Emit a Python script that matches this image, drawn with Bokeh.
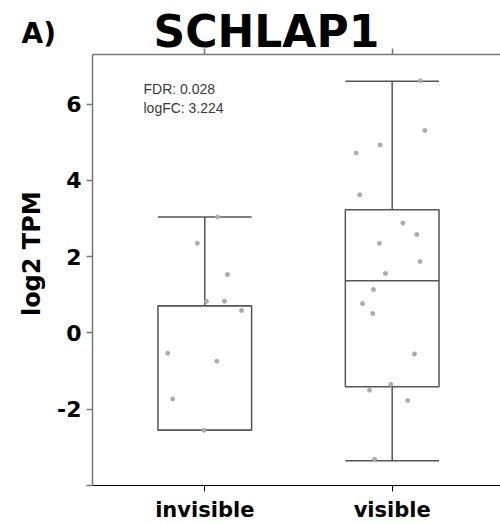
import math
from bokeh.plotting import figure
from bokeh.layouts import column, row
from bokeh.models import ColumnDataSource, Range1d, FixedTicker, LinearAxis, Label
from bokeh.core.properties import value
from bokeh.embed import file_html
from bokeh.resources import INLINE

# ---------------- data ----------------
categories = ["invisible", "visible"]

# box statistics
whisker_low = [-2.55, -3.35]
q1 = [-2.55, -1.41]
median = [0.71, 1.37]
q3 = [0.71, 3.23]
whisker_high = [3.04, 6.60]

# individual samples (log2 TPM) and their horizontal jitter
invisible_vals = [3.04, 2.35, 1.53, 0.83, 0.83, 0.59, -0.53, -0.74, -1.73, -2.55]
invisible_jit = [0.068, -0.040, 0.121, 0.009, 0.105, 0.196, -0.198, 0.064, -0.171, -0.005]
visible_vals = [6.61, 5.31, 4.93, 4.72, 3.62, 2.88, 2.58, 2.35, 1.87, 1.56,
                1.14, 0.77, 0.51, -0.55, -1.35, -1.50, -1.77, -3.31]
visible_jit = [0.151, 0.174, -0.064, -0.192, -0.173, 0.057, 0.131, -0.068, 0.149, -0.036,
               -0.100, -0.158, -0.104, 0.119, -0.007, -0.121, 0.083, -0.094]

y_ticks = [-4, -2, 0, 2, 4, 6]
y_tick_labels = ["", "-2", "0", "2", "4", "6"]
title_text = "SCHLAP1"
panel_tag = "A)"
stats_lines = ["FDR: 0.028", "logFC: 3.224"]
y_label = "log2 TPM"

# ---------------- layout constants ----------------
W, H = 500, 524
MAIN_TOP = 48          # where the main plot's canvas starts
HEAD_H = 60            # header canvas is taller and overlaps the main canvas
LEFT_W = 46
BOX_W = 0.5
AX = "#777777"
BOXC = "#555555"
PTC = "#ababab"
DESC = 0.24  # renderer puts the anchor this many em below the baseline

# ---------------- header (panel tag + title) ----------------
head = figure(width=W, height=HEAD_H, output_backend="svg", toolbar_location=None,
              title=None, x_range=Range1d(0, W), y_range=Range1d(0, HEAD_H),
              x_axis_type=None, y_axis_type=None, min_border=0,
              margin=(0, 0, MAIN_TOP - HEAD_H, 0))
head.outline_line_color = None
head.grid.visible = False
head.text(x=[21], y=[HEAD_H - (40 - DESC * 28)], text=[panel_tag],
          text_font=value("DejaVu Sans"), text_font_style="bold",
          text_font_size=value("28px"), text_color="black",
          text_baseline="alphabetic", text_align="left")
head.text(x=[153], y=[HEAD_H - (41.7 - DESC * 44)], text=[title_text],
          text_font=value("DejaVu Sans"), text_font_style="bold",
          text_font_size=value("44px"), text_color="black",
          text_baseline="alphabetic", text_align="left")

# ---------------- left strip (y axis title) ----------------
MAIN_H = H - MAIN_TOP
left = figure(width=LEFT_W, height=MAIN_H, output_backend="svg", toolbar_location=None,
              title=None, x_range=Range1d(0, LEFT_W), y_range=Range1d(0, MAIN_H),
              x_axis_type=None, y_axis_type=None, min_border=0)
left.outline_line_color = None
left.grid.visible = False
left.background_fill_color = None
left.border_fill_color = None
left.text(x=[37 - DESC * 24], y=[H - 268], text=[y_label], angle=math.pi / 2,
          text_font=value("DejaVu Sans"), text_font_style="bold",
          text_font_size=value("24px"), text_color="black",
          text_baseline="alphabetic", text_align="center")

# ---------------- main plot ----------------
x_pos = [i + 1 for i in range(len(categories))]

p = figure(width=W - LEFT_W, height=MAIN_H, output_backend="svg", toolbar_location=None,
           x_range=Range1d(0.4008, 2.578), y_range=Range1d(-4.0, 7.30),
           min_border_left=92 - LEFT_W, min_border_top=54 - MAIN_TOP,
           min_border_right=0, min_border_bottom=0)
p.outline_line_color = None
p.grid.visible = False
p.background_fill_color = None
p.border_fill_color = None

p.xaxis.ticker = FixedTicker(ticks=x_pos)
p.xaxis.major_label_overrides = {x: c for x, c in zip(x_pos, categories)}
p.xaxis.major_label_text_font = "DejaVu Sans"
p.xaxis.major_label_text_font_style = "bold"
p.xaxis.major_label_text_font_size = "21px"
p.xaxis.major_label_text_color = "black"
p.xaxis.major_label_standoff = 6
p.xaxis.major_tick_out = 6
p.xaxis.major_tick_in = 0
p.xaxis.minor_tick_line_color = None

p.yaxis.ticker = FixedTicker(ticks=y_ticks)
p.yaxis.major_label_overrides = {t: s for t, s in zip(y_ticks, y_tick_labels)}
p.yaxis.major_label_text_font = "DejaVu Sans"
p.yaxis.major_label_text_font_style = "bold"
p.yaxis.major_label_text_font_size = "22px"
p.yaxis.major_label_text_color = "black"
p.yaxis.major_label_standoff = 5
p.yaxis.major_tick_out = 6
p.yaxis.major_tick_in = 0
p.yaxis.minor_tick_line_color = None

top = LinearAxis(ticker=FixedTicker(ticks=x_pos),
                 major_label_overrides={x: "" for x in x_pos},
                 major_tick_out=6, major_tick_in=0, minor_tick_line_color=None,
                 major_label_standoff=0)
p.add_layout(top, "above")

for ax in [p.xaxis[0], p.yaxis[0], top]:
    ax.axis_line_color = AX
    ax.axis_line_width = 1.5
    ax.major_tick_line_color = AX
    ax.major_tick_line_width = 1.5

# boxes
box = ColumnDataSource(dict(
    x=x_pos,
    left=[x - BOX_W / 2 for x in x_pos],
    right=[x + BOX_W / 2 for x in x_pos],
    q1=q1, q3=q3, med=median, lo=whisker_low, hi=whisker_high,
))
p.segment(x0="x", y0="q3", x1="x", y1="hi", source=box, line_color=BOXC, line_width=1.5)
p.segment(x0="x", y0="lo", x1="x", y1="q1", source=box, line_color=BOXC, line_width=1.5)
p.segment(x0="left", y0="hi", x1="right", y1="hi", source=box, line_color=BOXC, line_width=1.5)
p.segment(x0="left", y0="lo", x1="right", y1="lo", source=box, line_color=BOXC, line_width=1.5)
p.quad(left="left", right="right", bottom="q1", top="q3", source=box,
       fill_color=None, line_color=BOXC, line_width=1.5)
p.segment(x0="left", y0="med", x1="right", y1="med", source=box, line_color=BOXC, line_width=1.5)

# points
pts = ColumnDataSource(dict(
    x=[x_pos[0] + j for j in invisible_jit] + [x_pos[1] + j for j in visible_jit],
    y=invisible_vals + visible_vals,
))
p.scatter(x="x", y="y", source=pts, size=4, fill_color=PTC, line_color=PTC)

# statistics text (screen units from the frame's bottom-left)
for i, s in enumerate(stats_lines):
    p.add_layout(Label(x=51, y=397 - 19.5 * i, x_units="screen", y_units="screen", text=s,
                       text_font="Liberation Sans", text_font_size="14px",
                       text_color="#3a3a3a", text_baseline="alphabetic"))

layout = column(head, row(left, p, spacing=0), spacing=0)
open("out.html", "w").write(file_html(layout, INLINE))
